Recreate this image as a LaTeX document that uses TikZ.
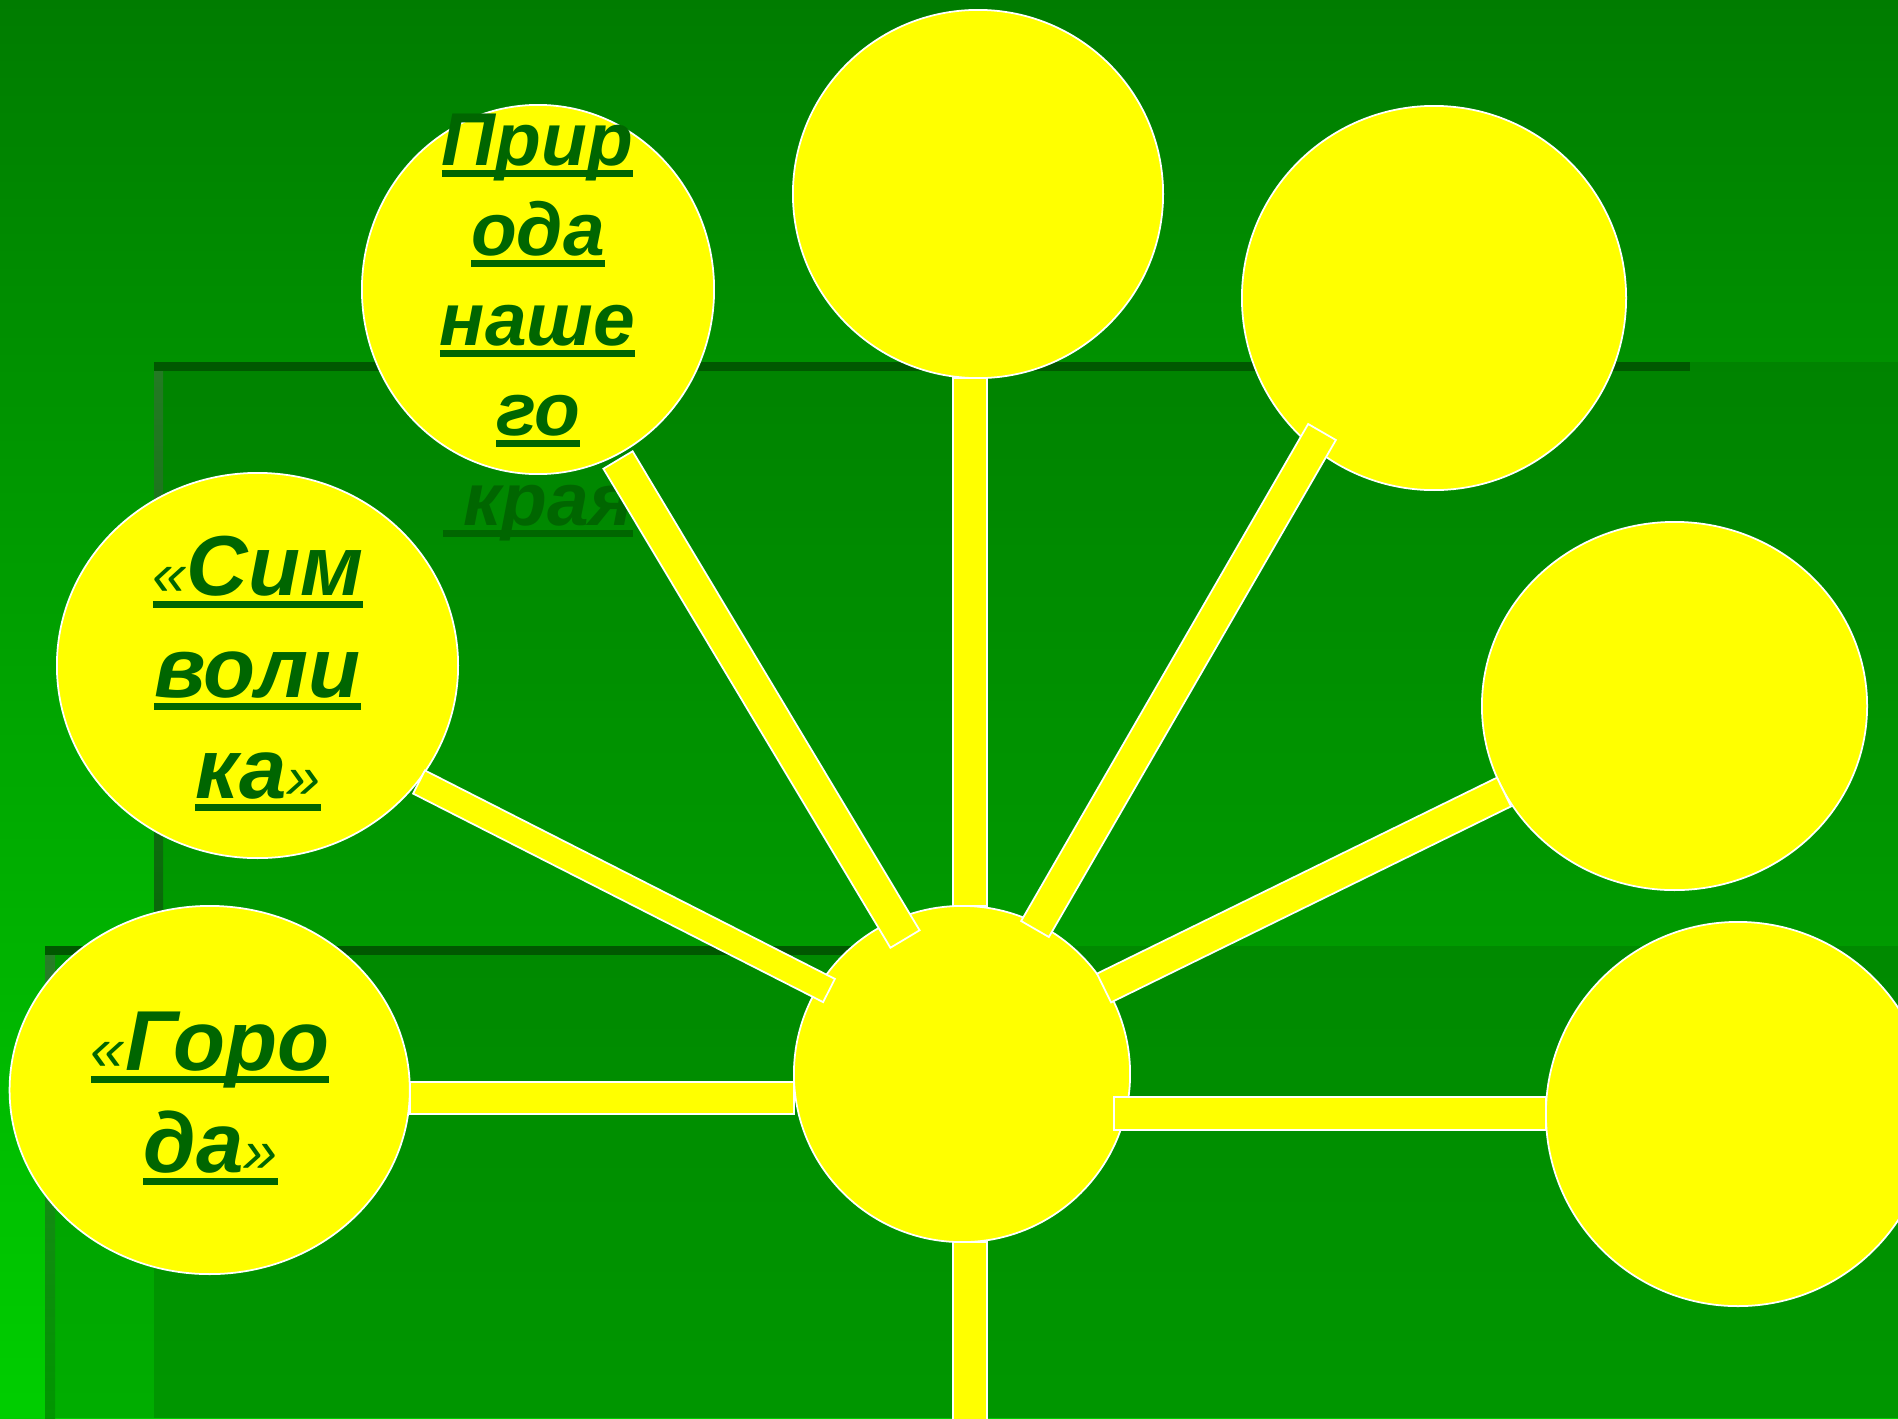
\documentclass[tikz,border=0pt]{standalone}
\usepackage{graphicx}
\usepackage{fontspec}
\setmainfont{Liberation Sans}
\usetikzlibrary{calc,shapes.geometric}
\definecolor{ylw}{RGB}{255,255,0}
\definecolor{txtg}{RGB}{0,102,0}
\definecolor{bgtop}{RGB}{0,124,0}
\definecolor{bgbot}{RGB}{0,206,0}
\definecolor{panelc}{RGB}{0,100,0}
\definecolor{shadowc}{RGB}{0,88,0}
\newcommand\ulword[1]{\setbox0=\hbox{#1}\leavevmode\rlap{\rule[-0.155em]{\wd0}{0.09em}}\box0}
\newcommand\glq{{\mdseries\scalebox{0.72}{«}}}
\newcommand\grq{{\mdseries\scalebox{0.72}{»}}}
\newcommand\sbar[3]{\draw[barst] ($(#1)!#3!90:(#2)$) -- ($(#2)!#3!-90:(#1)$) -- ($(#2)!#3!90:(#1)$) -- ($(#1)!#3!-90:(#2)$) -- cycle;}
\tikzset{
  blob/.style={ellipse, draw=white, line width=0.5pt, fill=ylw, inner sep=0pt},
  barst/.style={draw=white, line width=0.5pt, fill=ylw},
  lblA/.style={anchor=base, inner sep=0pt, outer sep=0pt, text=txtg, font=\fontsize{21.3pt}{25pt}\selectfont\bfseries\itshape},
  lblB/.style={anchor=base, inner sep=0pt, outer sep=0pt, text=txtg, font=\fontsize{24.2pt}{29pt}\selectfont\bfseries\itshape}
}
\begin{document}
\begin{tikzpicture}[x=0.01cm,y=-0.01cm]
\useasboundingbox (0,0) rectangle (1898,1418);
\clip (0,0) rectangle (1898,1418);
% background
\shade[top color=bgtop, bottom color=bgbot] (0,0) rectangle (1898,1418);
% panel 1
\fill[panelc, opacity=0.3] (154,362) rectangle (1898,1418);
\fill[shadowc] (154,362) rectangle (1690,371);
\shade[top color={rgb,255:red,35;green,122;blue,35}, bottom color={rgb,255:red,8;green,104;blue,8}] (154,371) rectangle (163,946);
% panel 2
\fill[panelc, opacity=0.3] (45,946) rectangle (1898,1418);
\fill[shadowc] (45,946) rectangle (900,955);
\shade[top color={rgb,255:red,40;green,125;blue,40}, bottom color={rgb,255:red,0;green,150;blue,0}] (45,955) rectangle (55,1418);
% circles
\node[blob, minimum width=3.52cm, minimum height=3.69cm] (P) at (538,289.5) {};
\node[blob, minimum width=3.70cm, minimum height=3.68cm] (T) at (978,194) {};
\node[blob, minimum width=3.84cm, minimum height=3.84cm] (TR) at (1434,298) {};
\node[blob, minimum width=3.85cm, minimum height=3.68cm] (RM) at (1674.5,706) {};
\node[blob, minimum width=3.84cm, minimum height=3.84cm] (RB) at (1738,1114) {};
\node[blob, minimum width=3.36cm, minimum height=3.36cm] (C) at (962,1074) {};
\node[blob, minimum width=4.01cm, minimum height=3.85cm] (S) at (257.5,665.5) {};
\node[blob, minimum width=4.00cm, minimum height=3.68cm] (G) at (209.7,1090) {};
% texts
\node[lblA] (p1) at (537.5,165) {\ulword{Прир}};
\node[lblA] (p2) at (538,255) {\ulword{ода}};
\node[lblA] (p3) at (537.5,345) {\ulword{наше}};
\node[lblA] (p4) at (538,435) {\ulword{го}};
\node[lblA] (p5) at (538,525) {\ulword{\ края}};
\node[lblB] (s1) at (258,595) {\ulword{\glq Сим}};
\node[lblB] (s2) at (257.5,697) {\ulword{воли}};
\node[lblB] (s3) at (258,798) {\ulword{ка\grq}};
\node[lblB] (g1) at (210,1070) {\ulword{\glq Горо}};
\node[lblB] (g2) at (210.5,1172) {\ulword{да\grq}};
% bar end points
\coordinate (pa) at (618,460);   \coordinate (pb) at (905,939);
\coordinate (sa) at (419,782);   \coordinate (sb) at (829,990.5);
\coordinate (ta) at (970,378);   \coordinate (tb) at (970,906);
\coordinate (tra) at (1322,432); \coordinate (trb) at (1035,929);
\coordinate (rma) at (1504,792); \coordinate (rmb) at (1104,988);
\coordinate (ga) at (410,1098);  \coordinate (gb) at (794,1098);
\coordinate (rba) at (1114,1113.5); \coordinate (rbb) at (1546,1113.5);
\coordinate (ca) at (970,1242);  \coordinate (cb) at (970,1440);
% bars
\sbar{pa}{pb}{0.17cm}
\sbar{sa}{sb}{0.13cm}
\sbar{ta}{tb}{0.17cm}
\sbar{tra}{trb}{0.16cm}
\sbar{rma}{rmb}{0.16cm}
\sbar{ga}{gb}{0.16cm}
\sbar{rba}{rbb}{0.165cm}
\sbar{ca}{cb}{0.17cm}
\end{tikzpicture}
\end{document}
